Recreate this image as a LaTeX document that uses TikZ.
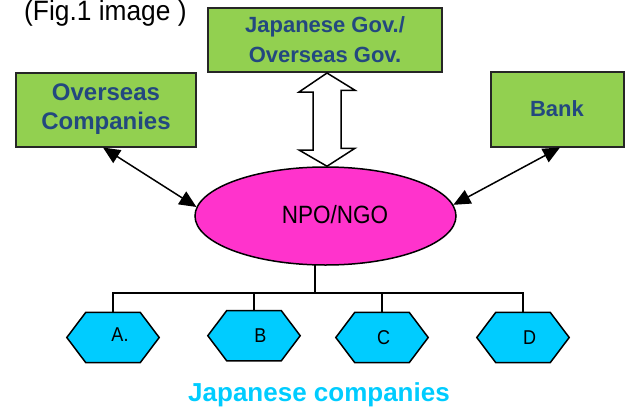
\documentclass[tikz,border=0pt]{standalone}
\usepackage{fontspec}
\setmainfont{Liberation Sans}
\newfontfamily\narrowfont[FakeStretch=0.9]{Liberation Sans}
\newfontfamily\capfont[FakeStretch=0.94]{Liberation Sans}
\usetikzlibrary{shapes.geometric,arrows.meta}
\definecolor{boxgreen}{HTML}{92D050}
\definecolor{npopink}{HTML}{FF33CC}
\definecolor{hexcyan}{HTML}{00CCFF}
\definecolor{boxtext}{HTML}{23487F}
\begin{document}
\begin{tikzpicture}[x=1pt,y=-1pt,
  greenbox/.style={draw=black!85, line width=2pt, fill=boxgreen, inner sep=0pt,
    align=center, text=boxtext, font=\bfseries\fontsize{22}{30}\selectfont},
  npostyle/.style={ellipse, draw=black, line width=1.5pt, fill=npopink, inner sep=0pt,
    minimum width=261, minimum height=98},
  hexslot/.style={inner sep=0pt, minimum width=92, minimum height=50},
  hexfill/.style={draw=black, line width=1.5pt, fill=hexcyan, line join=miter},
  hexlabel/.style={inner sep=0pt, font=\narrowfont\fontsize{20}{22}\selectfont},
  linkarrow/.style={line width=1.5pt, {Triangle[length=17pt,width=15pt]}-{Triangle[length=17pt,width=15pt]}},
  openarrow/.style={draw=black, line width=1.5pt, fill=white, line join=miter},
  treeline/.style={line width=1.5pt, line cap=rect}
]
\useasboundingbox (0,0) rectangle (627,410);

% caption
\node[anchor=base west, inner sep=0pt, font=\capfont\fontsize{28}{30}\selectfont] (cap) at (24,20) {(Fig.1 image )};

% boxes
\node[greenbox, minimum width=234, minimum height=64] (gov) at (325,40) {Japanese Gov./\\Overseas Gov.};
\node[greenbox, minimum width=180, minimum height=74, font=\bfseries\fontsize{24}{29}\selectfont] (oc) at (106,109.5) {Overseas\\Companies};
\node[greenbox, minimum width=133, minimum height=75] (bank) at (557,109) {Bank};

% central ellipse
\node[npostyle] (npo) at (325.5,216) {};
\node[inner sep=0pt, font=\narrowfont\fontsize{25}{27}\selectfont] (npot) at (335,215) {NPO/NGO};

% open double arrow
\draw[openarrow] ([xshift=2pt]gov.south) -- ++(-28,19) -- ++(14,0) -- ++(0,58) -- ++(-14,0)
  -- ([xshift=2pt]gov.south |- npo.north) -- ++(28,-18) -- ++(-14,0) -- ++(0,-58) -- ++(14,0) -- cycle;

% link arrows
\draw[linkarrow] ([xshift=-3pt]oc.south) -- (npo.176);
\draw[linkarrow] ([xshift=3pt]bank.south) -- (npo.5);

% hexagons
\node[hexslot] (hA) at (113,337.5) {};
\node[hexslot] (hB) at (254,335.7) {};
\node[hexslot] (hC) at (382,337.5) {};
\node[hexslot] (hD) at (523,337.5) {};
\foreach \h in {hA,hB,hC,hD}{
  \draw[hexfill] (\h.west) -- ([xshift=19pt]\h.north west) -- ([xshift=-19pt]\h.north east)
    -- (\h.east) -- ([xshift=-19pt]\h.south east) -- ([xshift=19pt]\h.south west) -- cycle;
}
\node[hexlabel] (tA) at (120,335) {A.};
\node[hexlabel] (tB) at (260.5,336) {B};
\node[hexlabel] (tC) at (383.5,337.5) {C};
\node[hexlabel] (tD) at (529.5,337.5) {D};

% tree connectors
\coordinate (stem) at (315,293);
\draw[treeline] (stem |- npo.south) -- (stem);
\draw[treeline] (hA.north |- stem) -- (hD.north |- stem);
\foreach \h in {hA,hB,hC,hD}{
  \draw[treeline] (\h.north |- stem) -- (\h.north);
}

% bottom caption
\node[inner sep=0pt, text=hexcyan, font=\bfseries\fontsize{26}{30}\selectfont] (jc) at (319,395) {Japanese companies};
\end{tikzpicture}
\end{document}
